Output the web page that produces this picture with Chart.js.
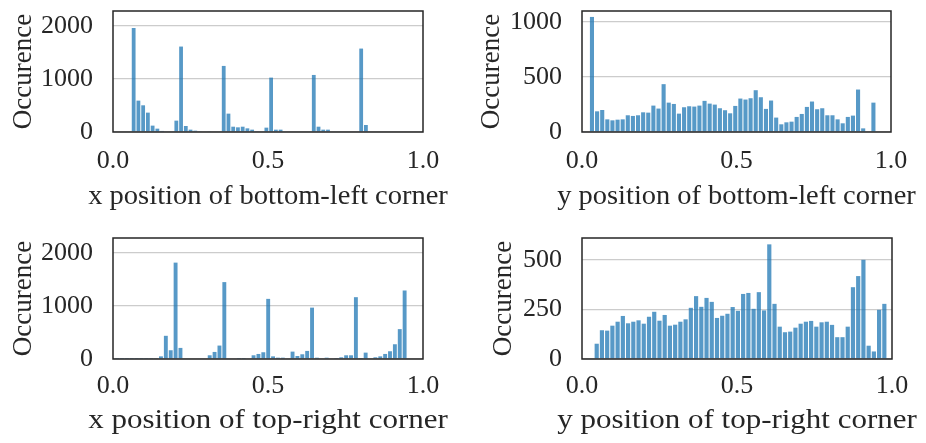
<!DOCTYPE html>
<html>
<head>
<meta charset="utf-8">
<script src="https://cdn.jsdelivr.net/npm/chart.js@4.4.1/dist/chart.umd.min.js"></script>
<style>
  html, body { margin: 0; padding: 0; background: #ffffff; }
  body { width: 926px; height: 443px; position: relative; overflow: hidden; }
  canvas { position: absolute; }
</style>
</head>
<body>
<canvas id="c1" width="463" height="226" style="left:0px;top:0px;"></canvas>
<canvas id="c2" width="463" height="226" style="left:463px;top:0px;"></canvas>
<canvas id="c3" width="463" height="217" style="left:0px;top:226px;"></canvas>
<canvas id="c4" width="463" height="217" style="left:463px;top:226px;"></canvas>
<script>
// ---- Data (histogram bins: start edge, bin width, counts) ----
const xTickValues = [0.0, 0.5, 1.0];
const yAxisTitle = "Occurence";

// x position of bottom-left corner
const blXTitle = "x position of bottom-left corner";
const blXBinStart = 0.059;
const blXBinWidth = 0.01529;
const blXCounts = [1960, 591, 503, 365, 120, 63, 20, 0, 0, 214,
                   1610, 113, 44, 25, 10, 0, 10, 0, 0, 1245,
                   346, 100, 88, 100, 69, 44, 15, 0, 82, 1025,
                   44, 44, 0, 0, 0, 0, 0, 0, 1075, 100,
                   44, 44, 0, 0, 0, 0, 0, 0, 1572, 132];
const blXYTicks = [0, 1000, 2000];
const blXYMax = 2280;

// y position of bottom-left corner
const blYTitle = "y position of bottom-left corner";
const blYBinStart = 0.024;
const blYBinWidth = 0.01656;
const blYCounts = [1046, 188, 200, 115, 106, 112, 115, 152, 146, 152,
                   179, 176, 240, 213, 435, 267, 255, 167, 225, 234,
                   231, 240, 283, 258, 249, 216, 198, 170, 237, 304,
                   295, 307, 380, 316, 210, 286, 131, 70, 88, 94,
                   137, 164, 228, 277, 207, 216, 152, 152, 115, 79,
                   137, 149, 386, 33, 0, 267];
const blYYTicks = [0, 500, 1000];
const blYYMax = 1100;

// x position of top-right corner
const trXTitle = "x position of top-right corner";
const trXBinStart = 0.0054;
const trXBinWidth = 0.01572;
const trXCounts = [5, 5, 5, 5, 5, 5, 5, 6, 8, 50,
                   437, 165, 1816, 209, 0, 0, 0, 0, 0, 70,
                   133, 253, 1449, 0, 0, 5, 5, 0, 70, 95,
                   127, 1133, 50, 25, 25, 0, 139, 57, 89, 152,
                   968, 25, 0, 25, 0, 19, 32, 70, 70, 1165,
                   19, 120, 0, 32, 50, 95, 146, 278, 563, 1291];
const trXYTicks = [0, 1000, 2000];
const trXYMax = 2280;

// y position of top-right corner
const trYTitle = "y position of top-right corner";
const trYBinStart = 0.039;
const trYBinWidth = 0.01687;
const trYCounts = [77, 145, 143, 168, 188, 217, 180, 188, 195, 178,
                   213, 238, 193, 222, 168, 173, 188, 200, 258, 317,
                   263, 308, 288, 207, 218, 228, 262, 243, 328, 333,
                   253, 337, 245, 578, 278, 163, 135, 138, 158, 178,
                   188, 192, 163, 185, 188, 172, 110, 110, 163, 362,
                   418, 500, 67, 38, 248, 278];
const trYYTicks = [0, 250, 500];
const trYYMax = 610;

// ---- Styling ----
const FONT = "'Liberation Serif', 'Times New Roman', serif";
const TEXT = '#262626';
const BAR = 'rgba(31,119,180,0.75)';
const GRID = '#cccccc';
const X_TITLE_STRETCH = 1.16;  // Computer Modern is set wider than Times

const framePlugin = {
  id: 'frame',
  afterDatasetsDraw(chart) {
    const { ctx, chartArea: { left, top, right, bottom } } = chart;
    ctx.save();
    ctx.strokeStyle = '#262626';
    ctx.lineWidth = 1.5;
    ctx.strokeRect(left, top, right - left, bottom - top);
    ctx.restore();
  }
};

// stretch the x-axis title horizontally about its centre
const stretchTitlePlugin = {
  id: 'stretchTitle',
  beforeDraw(chart) {
    const s = chart.scales.x;
    if (!s || s.$stretched) return;
    const orig = s.drawTitle.bind(s);
    s.drawTitle = function () {
      const ctx = this.ctx;
      const cx = (this.left + this.right) / 2;
      ctx.save();
      ctx.translate(cx, 0);
      ctx.scale(X_TITLE_STRETCH, 1);
      ctx.translate(-cx, 0);
      orig();
      ctx.restore();
    };
    s.$stretched = true;
  }
};

function makeHist(id, cfg) {
  const points = cfg.counts.map((c, i) => ({ x: cfg.start + cfg.width * (i + 0.5), y: c }));
  const canvas = document.getElementById(id);
  const W = canvas.width, H = canvas.height;
  new Chart(canvas, {
    type: 'bar',
    data: {
      datasets: [{
        data: points,
        backgroundColor: BAR,
        borderWidth: 0,
        barPercentage: 0.8,
        categoryPercentage: 1.0
      }]
    },
    options: {
      responsive: false,
      animation: false,
      devicePixelRatio: 1,
      layout: { padding: { left: 0, top: cfg.plot.top, right: W - cfg.plot.right, bottom: 0 } },
      plugins: { legend: { display: false }, tooltip: { enabled: false } },
      scales: {
        x: {
          type: 'linear',
          min: 0, max: 1,
          offset: false,
          grid: { display: false, drawTicks: false, offset: false },
          border: { display: false },
          afterBuildTicks: (s) => { s.ticks = xTickValues.map(v => ({ value: v })); },
          afterFit: (s) => { s.height = H - cfg.plot.bottom; s.paddingLeft = 0; s.paddingRight = 0; },
          ticks: {
            color: TEXT, padding: cfg.xTickPad,
            font: { family: FONT, size: 26, lineHeight: 1.2 },
            maxRotation: 0, autoSkip: false,
            callback: (v) => Number(v).toFixed(1)
          },
          title: {
            display: true, text: cfg.title, color: TEXT,
            font: { family: FONT, size: 28, lineHeight: 1.2 },
            padding: { top: 0, bottom: cfg.xTitlePad }
          }
        },
        y: {
          min: 0, max: cfg.ymax,
          grid: { color: GRID, lineWidth: 1.3, drawTicks: false },
          border: { display: false },
          afterBuildTicks: (s) => { s.ticks = cfg.yticks.map(v => ({ value: v })); },
          afterFit: (s) => { s.width = cfg.plot.left; s.paddingTop = 0; s.paddingBottom = 0; },
          ticks: {
            color: TEXT, padding: 20,
            font: { family: FONT, size: 26, lineHeight: 1.2 },
            callback: (v) => String(v)
          },
          title: {
            display: true, text: yAxisTitle, color: TEXT,
            font: { family: FONT, size: 27, lineHeight: 1.2 },
            padding: { top: cfg.yTitlePad, bottom: 0 }
          }
        }
      }
    },
    plugins: [framePlugin, stretchTitlePlugin]
  });
}

makeHist('c1', { counts: blXCounts, start: blXBinStart, width: blXBinWidth, ymax: blXYMax, yticks: blXYTicks,
  title: blXTitle, plot: { left: 113, right: 423, top: 11, bottom: 132 }, xTickPad: 14, xTitlePad: 13, yTitlePad: 7.7 });
makeHist('c2', { counts: blYCounts, start: blYBinStart, width: blYBinWidth, ymax: blYYMax, yticks: blYYTicks,
  title: blYTitle, plot: { left: 119, right: 428, top: 11, bottom: 132 }, xTickPad: 14, xTitlePad: 13, yTitlePad: 12.7 });
makeHist('c3', { counts: trXCounts, start: trXBinStart, width: trXBinWidth, ymax: trXYMax, yticks: trXYTicks,
  title: trXTitle, plot: { left: 113, right: 423, top: 12, bottom: 133 }, xTickPad: 12, xTitlePad: 6, yTitlePad: 7.7 });
makeHist('c4', { counts: trYCounts, start: trYBinStart, width: trYBinWidth, ymax: trYYMax, yticks: trYYTicks,
  title: trYTitle, plot: { left: 119, right: 429, top: 12, bottom: 133 }, xTickPad: 12, xTitlePad: 6, yTitlePad: 24.7 });
</script>
</body>
</html>
